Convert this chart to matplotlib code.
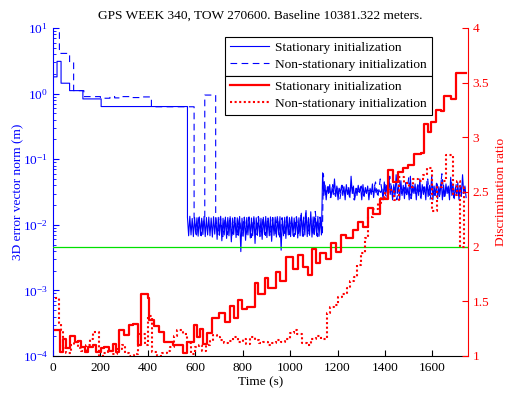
import numpy as np
import matplotlib
matplotlib.use("Agg")
import matplotlib.pyplot as plt
from matplotlib.lines import Line2D
from matplotlib.ticker import LogLocator

FS = 9.6
plt.rcParams['font.family'] = ['Liberation Serif', 'DejaVu Serif']
plt.rcParams['mathtext.fontset'] = 'custom'
plt.rcParams['mathtext.rm'] = 'Liberation Serif'
plt.rcParams['mathtext.it'] = 'Liberation Serif:italic'
plt.rcParams['font.size'] = FS

title = "GPS WEEK 340, TOW 270600. Baseline 10381.322 meters."
xlabel = "Time (s)"
ylabel_left = "3D error vector norm (m)"
ylabel_right = "Discrimination ratio"
legend_labels = ["Stationary initialization", "Non-stationary initialization"]
x_ticks = [0, 200, 400, 600, 800, 1000, 1200, 1400, 1600]
ratio_ticks = [1, 1.5, 2, 2.5, 3, 3.5, 4]
ratio_ticklabels = ["1", "1.5", "2", "2.5", "3", "3.5", "4"]
threshold_ratio = 2.0

# --- stationary initialization, 3D error (m) ---
stat_init_t = [0, 17, 34, 70, 126, 203, 567]
stat_init_v = [1.8, 3.1, 1.44, 1.11, 0.83, 0.635]
stat_band1_t = np.arange(567, 1137, 5)
stat_band1_v = [
    0.0130, 0.0068, 0.0135, 0.0070, 0.0125, 0.0066, 0.0130, 0.0072, 0.0128, 0.0067,
    0.0132, 0.0069, 0.0126, 0.0071, 0.0134, 0.0066, 0.0129, 0.0070, 0.0131, 0.0068,
    0.0127, 0.0065, 0.0133, 0.0072, 0.0128, 0.0060, 0.0130, 0.0069, 0.0135, 0.0057,
    0.0126, 0.0070, 0.0131, 0.0062, 0.0129, 0.0068, 0.0133, 0.0055, 0.0127, 0.0071,
    0.0130, 0.0064, 0.0128, 0.0069, 0.0134, 0.0039, 0.0126, 0.0067, 0.0131, 0.0058,
    0.0129, 0.0070, 0.0132, 0.0063, 0.0127, 0.0068, 0.0133, 0.0052, 0.0128, 0.0069,
    0.0131, 0.0066, 0.0126, 0.0060, 0.0130, 0.0071, 0.0134, 0.0064, 0.0127, 0.0068,
    0.0132, 0.0056, 0.0129, 0.0069, 0.0131, 0.0065, 0.0128, 0.0070, 0.0133, 0.0041,
    0.0126, 0.0068, 0.0130, 0.0062, 0.0135, 0.0070, 0.0129, 0.0066, 0.0132, 0.0069,
    0.0127, 0.0071, 0.0133, 0.0063, 0.0128, 0.0068, 0.0150, 0.0067, 0.0131, 0.0070,
    0.0165, 0.0066, 0.0129, 0.0069, 0.0158, 0.0065, 0.0132, 0.0071, 0.0127, 0.0068,
    0.0134, 0.0067, 0.0130, 0.0070]
stat_band2_t = np.arange(1137, 1745, 5)
stat_band2_v = [
    0.062, 0.028, 0.040, 0.024, 0.038, 0.030, 0.041, 0.026, 0.037, 0.029,
    0.050, 0.027, 0.039, 0.024, 0.036, 0.031, 0.040, 0.028, 0.038, 0.024,
    0.041, 0.029, 0.037, 0.026, 0.055, 0.030, 0.039, 0.024, 0.036, 0.028,
    0.040, 0.031, 0.038, 0.024, 0.041, 0.027, 0.037, 0.030, 0.039, 0.024,
    0.036, 0.029, 0.042, 0.026, 0.038, 0.031, 0.034, 0.032, 0.033, 0.031,
    0.035, 0.024, 0.045, 0.028, 0.040, 0.025, 0.052, 0.029, 0.039, 0.024,
    0.041, 0.027, 0.058, 0.030, 0.038, 0.024, 0.047, 0.028, 0.040, 0.025,
    0.044, 0.029, 0.037, 0.024, 0.055, 0.027, 0.040, 0.030, 0.042, 0.024,
    0.039, 0.028, 0.050, 0.025, 0.041, 0.029, 0.038, 0.024, 0.046, 0.027,
    0.040, 0.030, 0.057, 0.024, 0.039, 0.028, 0.043, 0.025, 0.038, 0.029,
    0.048, 0.024, 0.040, 0.027, 0.042, 0.030, 0.039, 0.024, 0.053, 0.028,
    0.041, 0.025, 0.037, 0.029, 0.044, 0.024, 0.040, 0.027, 0.058, 0.030,
    0.039, 0.026]

# --- non-stationary initialization, 3D error (m) ---
nonstat_init_t = [20, 27, 70, 87, 130, 200, 240, 260, 290, 330, 380, 415, 595]
nonstat_init_v = [12.0, 4.1, 3.0, 1.11, 0.90, 0.85, 0.90, 0.86, 0.90, 0.87, 0.89, 0.63]
nonstat_band_a_t = np.arange(595, 640, 10)
nonstat_band_a_v = [0.013, 0.007, 0.0128, 0.0068, 0.0125]
nonstat_jump_t = [635, 640, 686]
nonstat_jump_v = [0.95]
nonstat_band_b_t = np.arange(686, 1137, 10)
nonstat_band_b_v = [
    0.0128, 0.0069, 0.0131, 0.0066, 0.0127, 0.0071, 0.0133, 0.0065, 0.0129, 0.0070,
    0.0126, 0.0067, 0.0132, 0.0068, 0.0130, 0.0064, 0.0128, 0.0071, 0.0134, 0.0066,
    0.0127, 0.0069, 0.0131, 0.0067, 0.0129, 0.0070, 0.0133, 0.0065, 0.0128, 0.0068,
    0.0130, 0.0071, 0.0127, 0.0066, 0.0132, 0.0069, 0.0140, 0.0067, 0.0155, 0.0070,
    0.0128, 0.0068, 0.0160, 0.0066, 0.0131, 0.0069]
nonstat_band_c_t = np.arange(1140, 1741, 10)
nonstat_band_c_v = [
    0.060, 0.029, 0.039, 0.026, 0.041, 0.028, 0.037, 0.025, 0.040, 0.030,
    0.038, 0.027, 0.042, 0.024, 0.036, 0.031, 0.039, 0.028, 0.035, 0.033,
    0.034, 0.032, 0.045, 0.026, 0.050, 0.028, 0.041, 0.025, 0.055, 0.029,
    0.040, 0.024, 0.048, 0.030, 0.039, 0.027, 0.052, 0.025, 0.041, 0.029,
    0.044, 0.026, 0.038, 0.030, 0.050, 0.024, 0.040, 0.028, 0.042, 0.027,
    0.060, 0.025, 0.039, 0.029, 0.046, 0.026, 0.041, 0.028, 0.038, 0.030,
    0.040]

# --- discrimination ratio, stationary ---
ratio_stat_t = [10, 28, 42, 53, 70, 91, 105, 119, 133, 147,
                168, 182, 203, 217, 238, 252, 266, 280, 301, 322,
                336, 357, 371, 399, 406, 427, 448, 469, 506, 548,
                565, 593, 607, 621, 633, 650, 672, 700, 724, 745,
                762, 780, 795, 818, 852, 865, 893, 907, 939, 956,
                984, 1012, 1033, 1054, 1075, 1093, 1107, 1127, 1150, 1174,
                1195, 1216, 1237, 1265, 1286, 1307, 1328, 1349, 1377, 1413,
                1433, 1454, 1475, 1496, 1524, 1552, 1566, 1580, 1594, 1616,
                1636, 1650, 1679, 1700, 1740]
ratio_stat_v = [1.24, 1.04, 1.16, 1.07, 1.18, 1.13, 1.14, 1.08, 1.04, 1.08,
                1.10, 1.04, 1.07, 1.08, 1.05, 1.11, 1.04, 1.24, 1.19, 1.28,
                1.29, 1.10, 1.57, 1.53, 1.33, 1.27, 1.22, 1.13, 1.10, 1.03,
                1.13, 1.28, 1.17, 1.25, 1.11, 1.21, 1.35, 1.39, 1.31, 1.46,
                1.35, 1.51, 1.43, 1.45, 1.67, 1.57, 1.71, 1.62, 1.77, 1.69,
                1.91, 1.80, 1.92, 1.81, 1.74, 1.98, 1.85, 1.94, 1.89, 2.03,
                1.95, 2.11, 2.08, 2.15, 2.23, 2.18, 2.35, 2.30, 2.44, 2.70,
                2.59, 2.68, 2.72, 2.75, 2.85, 2.86, 3.12, 3.05, 3.14, 3.25,
                3.24, 3.38, 3.35, 3.59, 3.59]

# --- discrimination ratio, non-stationary ---
ratio_nonstat_t = [10, 25, 35, 42, 55, 75, 90, 105, 120, 140,
                   155, 170, 195, 210, 230, 250, 270, 290, 305, 320,
                   340, 360, 387, 400, 418, 440, 460, 480, 495, 510,
                   525, 550, 565, 580, 600, 615, 630, 645, 660, 675,
                   690, 705, 720, 740, 760, 780, 800, 815, 830, 850,
                   870, 886, 905, 925, 942, 960, 980, 999, 1015, 1030,
                   1048, 1070, 1090, 1110, 1130, 1154, 1168, 1185, 1203, 1220,
                   1238, 1252, 1268, 1281, 1300, 1315, 1329, 1350, 1370, 1384,
                   1400, 1419, 1440, 1461, 1482, 1500, 1520, 1540, 1560, 1575,
                   1600, 1620, 1640, 1659, 1687, 1705, 1718, 1735, 1742]
ratio_nonstat_v = [1.53, 1.30, 1.24, 1.07, 1.03, 1.10, 1.13, 1.07, 1.05, 1.10,
                   1.16, 1.22, 1.00, 1.03, 1.05, 1.02, 1.06, 1.10, 1.03, 1.00,
                   1.02, 1.20, 1.10, 1.37, 1.04, 1.00, 1.03, 1.05, 1.08, 1.18,
                   1.24, 1.20, 1.12, 1.02, 1.08, 1.10, 1.05, 1.10, 1.14, 1.19,
                   1.17, 1.15, 1.12, 1.14, 1.17, 1.13, 1.16, 1.11, 1.17, 1.15,
                   1.12, 1.13, 1.10, 1.12, 1.15, 1.13, 1.16, 1.21, 1.24, 1.20,
                   1.12, 1.10, 1.16, 1.18, 1.16, 1.39, 1.45, 1.47, 1.54, 1.57,
                   1.62, 1.69, 1.72, 1.83, 1.94, 2.08, 2.27, 2.34, 2.40, 2.45,
                   2.50, 2.52, 2.43, 2.64, 2.58, 2.55, 2.62, 2.60, 2.66, 2.72,
                   2.33, 2.55, 2.60, 2.84, 2.47, 2.60, 2.00, 2.55, 2.55]


def step_vertices(t, v, end_value):
    """Steps-post vertices: v[i] holds from t[i] to t[i+1]; at t[-1] go to end_value."""
    xs, ys = [], []
    for i in range(len(v)):
        xs += [t[i], t[i + 1]]
        ys += [v[i], v[i]]
    xs.append(t[-1])
    ys.append(end_value)
    return xs, ys


sx, sy = step_vertices(stat_init_t, stat_init_v, stat_band1_v[0])
sx += list(stat_band1_t) + list(stat_band2_t)
sy += list(stat_band1_v) + list(stat_band2_v)

nx, ny = step_vertices(nonstat_init_t, nonstat_init_v, nonstat_band_a_v[0])
nx += list(nonstat_band_a_t)
ny += list(nonstat_band_a_v)
jx, jy = step_vertices(nonstat_jump_t[1:], nonstat_jump_v, nonstat_band_b_v[0])
nx += [nonstat_jump_t[0], nonstat_jump_t[1]] + jx
ny += [nonstat_band_a_v[-1], nonstat_band_a_v[-1]] + jy
nx += list(nonstat_band_b_t) + list(nonstat_band_c_t)
ny += list(nonstat_band_b_v) + list(nonstat_band_c_v)

BLUE = '#0000ff'
RED = '#ff0000'
DASH = (0, (6, 4))
DOT = (0, (1, 1.2))

fig = plt.figure(figsize=(5.09, 3.97), dpi=100)
ax = fig.add_axes([53 / 509, 41 / 397, 415 / 509, 328 / 397])
ax2 = ax.twinx()

ax.plot(nx, ny, color=BLUE, lw=0.8, ls=DASH)
ax.plot(sx, sy, color=BLUE, lw=0.8)
ax.set_yscale('log')
ax.set_ylim(1e-4, 10)
ax.set_xlim(0, 1750)
ax.set_xticks(x_ticks)
ax.yaxis.set_major_locator(LogLocator(base=10, numticks=10))
ax.yaxis.set_minor_locator(LogLocator(base=10, subs=np.arange(2, 10), numticks=20))

ax2.axhline(threshold_ratio, color='#00e000', lw=0.9)
ax2.step(ratio_nonstat_t, ratio_nonstat_v, where='post', color=RED, lw=1.5, ls=DOT)
ax2.step(ratio_stat_t, ratio_stat_v, where='post', color=RED, lw=1.6)
ax2.set_ylim(1, 4)
ax2.set_yticks(ratio_ticks)
ax2.set_yticklabels(ratio_ticklabels)

for a in (ax, ax2):
    a.spines['top'].set_visible(False)
ax.spines['left'].set_color(BLUE)
ax.spines['right'].set_visible(False)
ax2.spines['left'].set_visible(False)
ax2.spines['bottom'].set_visible(False)
ax2.spines['right'].set_color(RED)

ax.tick_params(axis='x', direction='in', length=4, colors='black', labelsize=FS, pad=4)
ax.tick_params(axis='y', which='major', direction='in', length=4, colors=BLUE, labelsize=FS)
ax.tick_params(axis='y', which='minor', direction='in', length=2, colors=BLUE)
ax2.tick_params(axis='y', direction='in', length=4, colors=RED, labelsize=FS)

ax.set_title(title, fontsize=FS, pad=7)
ax.set_xlabel(xlabel, fontsize=FS, labelpad=2)
ax.set_ylabel(ylabel_left, fontsize=FS, color=BLUE, labelpad=-1)
ax2.set_ylabel(ylabel_right, fontsize=FS, color=RED, labelpad=4)

h_blue = [Line2D([], [], color=BLUE, lw=0.8),
          Line2D([], [], color=BLUE, lw=0.8, ls=DASH)]
h_red = [Line2D([], [], color=RED, lw=1.6),
         Line2D([], [], color=RED, lw=1.5, ls=DOT)]
leg_kw = dict(loc='upper right', fontsize=FS, frameon=True, fancybox=False,
              edgecolor='black', framealpha=1, borderaxespad=0, borderpad=0.35,
              handlelength=2.9, handletextpad=0.5, labelspacing=0.38)
leg1 = ax2.legend(h_blue, legend_labels, bbox_to_anchor=(0.913, 0.974), **leg_kw)
leg1.get_frame().set_linewidth(0.8)
ax2.add_artist(leg1)

fig.canvas.draw()
bb = leg1.get_window_extent().transformed(ax2.transAxes.inverted())
leg2 = ax2.legend(h_red, legend_labels, bbox_to_anchor=(0.913, bb.y0), **leg_kw)
leg2.get_frame().set_linewidth(0.8)

fig.savefig('out.png', dpi=100)
